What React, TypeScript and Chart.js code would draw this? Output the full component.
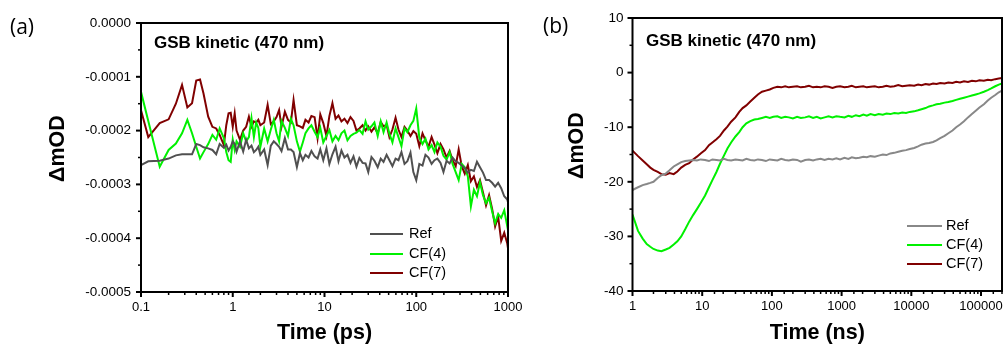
import React, { useEffect, useRef } from "react";
import { Chart, registerables } from "chart.js";

Chart.register(...registerables);

// ---------------- Panel (a): GSB kinetic (470 nm), time in ps ----------------
const timePs = [
  0.1, 0.12, 0.16, 0.2, 0.24, 0.28, 0.32, 0.36, 0.4, 0.44, 0.48, 0.54, 0.6, 0.66, 0.72, 0.8, 0.85, 0.9, 0.95,
  1.0, 1.05, 1.1, 1.2, 1.3, 1.4, 1.5, 1.6, 1.7, 1.8, 1.9,
  2.0, 2.2, 2.4, 2.6, 2.8, 3.0, 3.2, 3.4, 3.7, 4.0, 4.3, 4.6, 5.0, 5.4, 5.8, 6.2, 6.7, 7.2, 7.8, 8.4, 9.0, 9.7,
  10.5, 11.3, 12.2, 13.2, 14.2, 15.3, 16.5, 17.8, 19.2, 20.7, 22.3, 24, 26, 28, 30, 32.5, 35, 38, 41, 44, 47.5, 51, 55, 59.5, 64, 69, 74.5, 80, 86.5, 93,
  100, 108, 117, 126, 136, 147, 158, 170, 184, 198, 214, 231, 249, 269, 290, 313, 338, 365, 394, 425, 459, 495, 534, 576, 622, 671, 724, 781, 843, 910, 982,
  1000,
];

// ΔOD values in units of 1e-4 OD
const refPs_e4 = [
  -2.64, -2.57, -2.56, -2.52, -2.46, -2.44, -2.44, -2.44, -2.25, -2.27, -2.31, -2.33, -2.36, -2.44, -2.25, -2.32, -2.26, -2.37, -2.30,
  -2.20, -2.25, -2.39, -2.20, -2.39, -2.17, -2.33, -2.28, -2.40, -2.36, -2.30,
  -2.45, -2.35, -2.64, -2.28, -2.20, -2.25, -2.30, -2.38, -2.14, -2.35, -2.35, -2.40, -2.68, -2.42, -2.55, -2.45, -2.50, -2.38, -2.48, -2.52, -2.35, -2.55,
  -2.33, -2.62, -2.44, -2.30, -2.57, -2.37, -2.50, -2.45, -2.60, -2.48, -2.67, -2.51, -2.60, -2.61, -2.77, -2.49, -2.56, -2.68, -2.52, -2.58, -2.45, -2.55, -2.66, -2.52, -2.55, -2.40, -2.62, -2.57, -2.41, -2.77,
  -2.92, -2.62, -2.65, -2.45, -2.50, -2.62, -2.55, -2.52, -2.60, -2.77, -2.56, -2.61, -2.50, -2.57, -2.60, -2.65, -2.70, -2.78, -2.73, -2.75, -2.58, -2.68, -2.78, -2.92, -2.92, -2.97, -3.04, -2.97, -3.07, -3.22, -3.28,
  -3.33,
];

const cf4Ps_e4 = [
  -1.28, -1.82, -2.67, -2.36, -2.24, -2.05, -1.80, -2.05, -2.30, -2.52, -2.40, -2.25, -2.08, -2.17, -1.96, -2.14, -2.40, -2.55, -2.58,
  -2.17, -2.36, -2.20, -2.30, -2.05, -2.20, -2.12, -1.77, -2.12, -1.85, -1.95,
  -2.30, -1.96, -2.20, -1.98, -1.80, -2.05, -2.20, -1.82, -1.95, -2.10, -1.78, -1.90, -2.20, -2.39, -2.22, -2.05, -1.96, -1.90, -2.02, -2.12, -1.95, -2.22,
  -2.10, -1.99, -2.20, -2.10, -2.18, -2.05, -2.00, -2.18, -2.10, -2.06, -2.04, -1.99, -2.06, -1.83, -1.98, -1.92, -1.85, -2.10, -1.83, -2.03, -1.85, -2.06, -2.22, -1.96, -2.12, -2.29, -1.96, -2.03, -1.90, -1.82,
  -1.59, -2.13, -2.25, -2.15, -2.35, -2.27, -2.40, -2.22, -2.30, -2.47, -2.54, -2.40, -2.62, -2.77, -2.92, -2.62, -2.68, -2.85, -3.41, -3.10, -3.22, -2.96, -3.20, -3.35, -3.25, -3.50, -3.72, -3.55, -3.62, -3.48, -3.78,
  -3.85,
];

const cf7Ps_e4 = [
  -1.62, -2.12, -1.86, -1.79, -1.50, -1.15, -1.57, -1.49, -1.07, -1.05, -1.31, -1.74, -1.93, -1.96, -2.08, -2.27, -1.90, -1.68, -1.67,
  -1.93, -1.68, -2.00, -2.17, -2.00, -1.93, -1.74, -1.93, -1.83, -1.85, -1.80,
  -1.90, -1.85, -1.52, -1.88, -1.83, -1.75, -1.62, -1.93, -1.65, -1.80, -1.85, -1.43, -1.90, -1.92, -1.95, -1.80, -1.85, -1.73, -1.75, -2.14, -1.70, -1.86,
  -2.10, -1.73, -1.49, -1.78, -1.72, -1.83, -1.78, -1.86, -1.75, -1.82, -2.00, -1.96, -1.90, -2.00, -1.92, -2.02, -1.94, -2.05, -1.84, -1.92, -1.89, -2.12, -1.98, -1.76, -1.98, -2.12, -1.93, -2.00, -2.10, -2.01,
  -2.06, -2.29, -2.05, -2.18, -2.30, -2.12, -2.26, -2.42, -2.25, -2.35, -2.50, -2.38, -2.55, -2.66, -2.35, -2.66, -2.80, -2.64, -2.94, -2.85, -3.05, -2.92, -3.15, -3.39, -3.20, -3.45, -3.78, -3.60, -4.05, -3.90, -4.10,
  -4.19,
];

// ---------------- Panel (b): GSB kinetic (470 nm), time in ns ----------------
const timeNs = [
  1, 1.2, 1.4, 1.6, 1.8, 2, 2.3, 2.6, 3, 3.4, 3.9, 4.4, 5, 5.7, 6.5, 7.4, 8.4, 9.5,
  11, 12.5, 14, 16, 18, 20.5, 23, 26, 30, 34, 38, 43, 49, 56, 63, 72, 82, 93,
  105, 120, 136, 155, 175, 200, 230, 260, 300, 340, 390, 440, 500, 570, 650, 740, 840, 950,
  1100, 1250, 1400, 1600, 1800, 2050, 2300, 2600, 3000, 3400, 3900, 4400, 5000, 5700, 6500, 7400, 8400, 9500,
  11000, 12500, 14000, 16000, 18000, 20500, 23000, 26000, 30000, 34000, 39000, 44000, 50000, 57000, 65000, 74000, 84000, 95000,
  110000, 125000, 140000, 160000, 180000, 200000,
];

// ΔmOD
const refNs = [
  -21.5, -21.0, -20.6, -20.4, -20.2, -20.0, -19.3, -18.8, -18.5, -17.9, -17.2, -16.8, -16.4, -16.2, -16.1, -16.0, -16.1, -15.9,
  -16.0, -16.2, -15.9, -16.0, -16.1, -15.8, -16.0, -16.1, -15.9, -16.0, -16.1, -15.8, -16.0, -16.1, -15.9, -16.0, -16.2, -15.9,
  -16.0, -16.1, -15.8, -16.0, -16.1, -15.9, -16.0, -16.3, -16.0, -15.9, -16.1, -15.9, -15.8, -16.0, -15.8, -15.9, -15.7, -15.9,
  -15.6, -15.8, -15.5, -15.7, -15.6, -15.4, -15.5, -15.3, -15.4, -15.2, -15.0, -15.1, -14.8, -14.7, -14.5, -14.3, -14.2, -14.0,
  -13.8, -13.5, -13.2, -13.0, -12.9, -12.7, -12.4, -12.0, -11.6, -11.1, -10.6, -10.0, -9.5, -8.9, -8.2, -7.6, -7.0, -6.4,
  -5.8, -5.1, -4.6, -4.1, -3.6, -3.3,
];

const cf4Ns = [
  -26.0, -29.0, -30.4, -31.4, -31.9, -32.3, -32.6, -32.7, -32.4, -32.1, -31.5, -30.9, -30.0, -28.7, -27.3, -26.1, -25.0, -23.9,
  -22.5, -21.0, -19.7, -18.2, -16.7, -15.2, -13.9, -12.8, -11.7, -10.9, -10.0, -9.3, -8.9, -8.6, -8.5, -8.3, -8.1, -8.3,
  -8.1, -8.0, -8.3, -8.1, -8.2, -8.4, -8.1, -8.3, -8.2, -8.0, -8.3, -8.1, -8.4, -8.2, -8.0, -8.2, -8.0, -8.1,
  -8.2, -7.9, -8.1, -7.8, -8.0, -7.7, -7.9, -7.6, -7.8, -7.6, -7.7, -7.5, -7.6, -7.4, -7.5, -7.3, -7.4, -7.2,
  -7.1, -6.9, -6.7, -6.5, -6.2, -6.0, -5.8, -5.7, -5.5, -5.4, -5.2, -5.0, -4.8, -4.6, -4.4, -4.2, -4.0, -3.8,
  -3.5, -3.2, -2.9, -2.5, -2.2, -2.0,
];

const cf7Ns = [
  -14.3, -15.3, -16.1, -16.8, -17.4, -17.8, -18.2, -18.6, -18.7, -18.4, -18.6, -18.1, -17.4, -16.9, -16.6, -15.9, -15.4, -14.8,
  -14.2, -13.3, -12.8, -12.2, -11.6, -10.6, -9.9, -9.0, -8.2, -7.2, -6.5, -6.0, -5.3, -4.6, -4.0, -3.5, -3.3, -3.1,
  -2.8, -2.6, -2.7, -2.5, -2.7, -2.6, -2.5, -2.7, -2.6, -2.4, -2.7, -2.6, -2.7, -2.5, -2.6, -2.8, -2.6, -2.5,
  -2.7, -2.6, -2.4, -2.7, -2.6, -2.5, -2.7, -2.6, -2.5, -2.7, -2.6, -2.4, -2.6, -2.5, -2.3, -2.5, -2.4, -2.3,
  -2.4, -2.2, -2.3, -2.1, -2.2, -2.0, -2.1, -1.9, -2.0, -1.8, -1.9, -1.7, -1.8, -1.6, -1.7, -1.5, -1.6, -1.4,
  -1.5, -1.3, -1.4, -1.2, -1.1, -1.0,
];

const seriesLabels = ["Ref", "CF(4)", "CF(7)"];
const colorsA = ["#505050", "#00f000", "#800000"];
const colorsB = ["#888888", "#00f000", "#800000"];

const FONT = "'Liberation Sans', Arial, Helvetica, sans-serif";
Chart.defaults.font.family = FONT;
Chart.defaults.color = "#000";

interface Decor {
  tag: string;
  tagX: number;
  tagY: number;
  title: string;
  titleX: number;
  titleY: number;
  legLineX: number;
  legLineLen: number;
  legTextX: number;
  legRows: number[];
}

const isDecade = (v: number) => {
  const e = Math.log10(v);
  return Math.abs(e - Math.round(e)) < 1e-6;
};

function decorPlugin(d: Decor) {
  return {
    id: "decor",
    afterDraw(chart: any) {
      const { ctx, chartArea: a } = chart;
      const xs = chart.scales.x;
      const ys = chart.scales.y;
      ctx.save();
      ctx.strokeStyle = "#000";
      ctx.lineCap = "butt";
      const seg = (x1: number, y1: number, x2: number, y2: number, w: number) => {
        ctx.lineWidth = w;
        ctx.beginPath();
        ctx.moveTo(x1, y1);
        ctx.lineTo(x2, y2);
        ctx.stroke();
      };
      // x ticks (log): decades major, others minor
      for (const t of xs.ticks) {
        const px = xs.getPixelForValue(t.value);
        const major = isDecade(t.value);
        seg(px, a.bottom, px, a.bottom + (major ? 5 : 3), major ? 2 : 1.5);
      }
      // y ticks: major at ticks, minor halfway
      const yv: number[] = ys.ticks.map((t: any) => t.value);
      yv.forEach((v, i) => {
        const py = ys.getPixelForValue(v);
        seg(a.left - 5, py, a.left, py, 2);
        if (i > 0) {
          const pm = ys.getPixelForValue((v + yv[i - 1]) / 2);
          seg(a.left - 3, pm, a.left, pm, 1.5);
        }
      });
      // frame
      ctx.lineWidth = 2;
      ctx.strokeRect(a.left, a.top, a.right - a.left, a.bottom - a.top);

      // panel tag
      ctx.fillStyle = "#000";
      ctx.textBaseline = "middle";
      ctx.textAlign = "left";
      ctx.font = "21px 'Open Sans', 'Noto Sans', sans-serif";
      ctx.fillText(d.tag, d.tagX, d.tagY);
      // inner title
      ctx.font = `bold 17px ${FONT}`;
      ctx.fillText(d.title, d.titleX, d.titleY);
      // legend
      ctx.font = `14.5px ${FONT}`;
      chart.data.datasets.forEach((ds: any, i: number) => {
        const y = d.legRows[i];
        ctx.strokeStyle = ds.borderColor;
        seg(d.legLineX, y, d.legLineX + d.legLineLen, y, 2);
        ctx.fillStyle = "#000";
        ctx.fillText(ds.label, d.legTextX, y);
      });
      ctx.restore();
    },
  };
}

function makeChart(
  canvas: HTMLCanvasElement,
  times: number[],
  values: number[][],
  colors: string[],
  scaleFactor: number,
  o: {
    padding: { left: number; top: number; right: number; bottom: number };
    xMin: number;
    xMax: number;
    yMin: number;
    yMax: number;
    yStep: number;
    yFmt: (v: number) => string;
    yWidth: number;
    xHeight: number;
    yTickPad: number;
    yTitlePad: number;
    xTitle: string;
    decor: Decor;
  }
) {
  const hidden = {
    display: true,
    drawOnChartArea: false,
    drawTicks: true,
    color: "rgba(0,0,0,0)",
  };
  return new Chart(canvas, {
    type: "line",
    data: {
      datasets: values.map((vals, k) => ({
        label: seriesLabels[k],
        data: times.map((t, i) => ({ x: t, y: vals[i] * scaleFactor })),
        borderColor: colors[k],
        backgroundColor: colors[k],
        borderWidth: 2,
        pointRadius: 0,
        tension: 0,
        fill: false,
      })),
    },
    options: {
      animation: false,
      responsive: false,
      devicePixelRatio: 1,
      layout: { padding: o.padding },
      plugins: { legend: { display: false }, tooltip: { enabled: false } },
      scales: {
        x: {
          type: "logarithmic",
          min: o.xMin,
          max: o.xMax,
          afterFit: (s: any) => {
            s.height = o.xHeight;
          },
          grid: { ...hidden, tickLength: 5 },
          border: { display: false },
          ticks: {
            autoSkip: false,
            maxRotation: 0,
            minRotation: 0,
            padding: 3,
            color: "#000",
            font: { size: 13, family: FONT },
            callback: (v: any) => (isDecade(Number(v)) ? String(Number(v)) : ""),
          },
          title: {
            display: true,
            text: o.xTitle,
            color: "#000",
            font: { size: 21.5, weight: "bold", family: FONT },
            padding: { top: 0, bottom: 1 },
          },
        },
        y: {
          type: "linear",
          min: o.yMin,
          max: o.yMax,
          afterFit: (s: any) => {
            s.width = o.yWidth;
          },
          grid: { ...hidden, tickLength: 5 },
          border: { display: false },
          ticks: {
            stepSize: o.yStep,
            padding: o.yTickPad,
            color: "#000",
            font: { size: 13.5, family: FONT },
            callback: (v: any) => o.yFmt(Number(v)),
          },
          title: {
            display: true,
            text: "   ΔmOD",
            color: "#000",
            font: { size: 21.5, weight: "bold", family: FONT },
            padding: { top: o.yTitlePad, bottom: 0 },
          },
        },
      },
    } as any,
    plugins: [decorPlugin(o.decor)],
  });
}

export default function App() {
  const canvasA = useRef<HTMLCanvasElement>(null);
  const canvasB = useRef<HTMLCanvasElement>(null);

  useEffect(() => {
    const a = makeChart(canvasA.current!, timePs, [refPs_e4, cf4Ps_e4, cf7Ps_e4], colorsA, 1e-4, {
      padding: { left: 0, top: 23, right: 22, bottom: 0 },
      xMin: 0.1,
      xMax: 1000,
      yMin: -0.0005,
      yMax: 0,
      yStep: 0.0001,
      yFmt: (v) => v.toFixed(4),
      yWidth: 141,
      xHeight: 55,
      yTickPad: 5,
      yTitlePad: 45,
      xTitle: "Time (ps)",
      decor: {
        tag: "(a)",
        tagX: 10,
        tagY: 28,
        title: "GSB kinetic (470 nm)",
        titleX: 154,
        titleY: 43,
        legLineX: 370,
        legLineLen: 33,
        legTextX: 409,
        legRows: [234, 254, 273],
      },
    });
    const b = makeChart(canvasB.current!, timeNs, [refNs, cf4Ns, cf7Ns], colorsB, 1, {
      padding: { left: 0, top: 18, right: 13, bottom: 0 },
      xMin: 1,
      xMax: 200000,
      yMin: -40,
      yMax: 10,
      yStep: 10,
      yFmt: (v) => String(Math.round(v)),
      yWidth: 117.5,
      xHeight: 56,
      yTickPad: 4,
      yTitlePad: 49,
      xTitle: "Time (ns)",
      decor: {
        tag: "(b)",
        tagX: 28,
        tagY: 27,
        title: "GSB kinetic (470 nm)",
        titleX: 131,
        titleY: 41,
        legLineX: 392,
        legLineLen: 35,
        legTextX: 431,
        legRows: [226, 245, 264],
      },
    });
    return () => {
      a.destroy();
      b.destroy();
    };
  }, []);

  return (
    <div
      style={{
        position: "absolute",
        left: 0,
        top: 0,
        width: 1006,
        height: 347,
        overflow: "hidden",
        background: "#fff",
      }}
    >
      <canvas ref={canvasA} width={530} height={347} style={{ position: "absolute", left: 0, top: 0 }} />
      <canvas ref={canvasB} width={500} height={347} style={{ position: "absolute", left: 515, top: 0 }} />
    </div>
  );
}
